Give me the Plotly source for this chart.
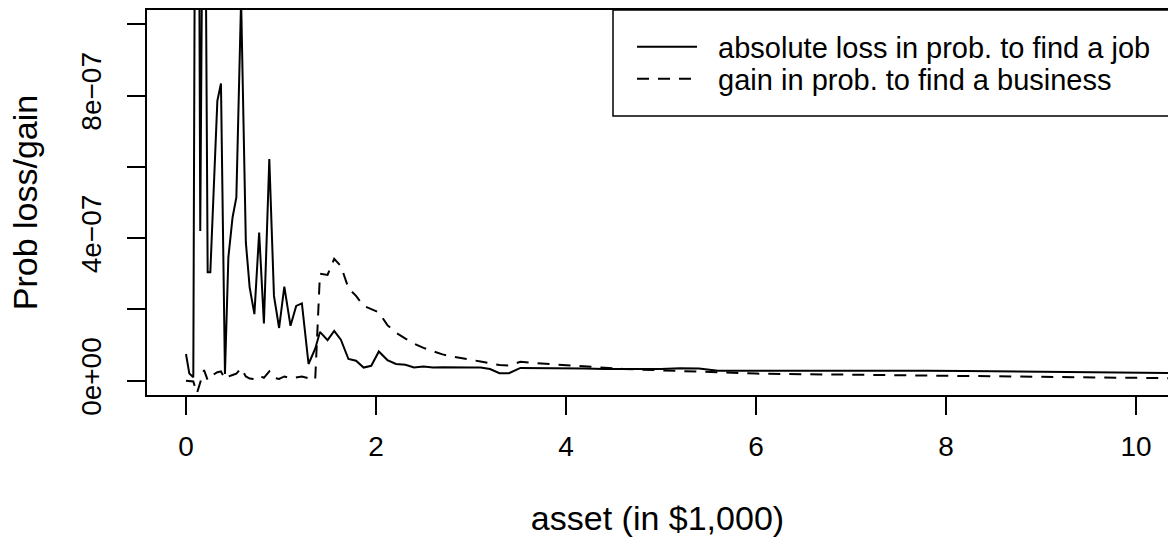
import plotly.graph_objects as go

# asset grid (in $1,000)
asset = [0.0, 0.035, 0.077, 0.115, 0.15, 0.19, 0.228, 0.256, 0.33, 0.368,
         0.41, 0.446, 0.49, 0.53, 0.58, 0.63, 0.67, 0.72, 0.77, 0.82,
         0.877, 0.926, 0.98, 1.035, 1.10, 1.16, 1.22, 1.29, 1.36, 1.41,
         1.49, 1.56, 1.63, 1.71, 1.79, 1.87, 1.95, 2.03, 2.12, 2.21,
         2.31, 2.40, 2.50, 2.60, 2.70, 2.80, 2.90, 3.00, 3.10, 3.20,
         3.30, 3.40, 3.52, 3.65, 3.80, 4.00, 4.20, 4.40, 4.60, 4.80,
         5.00, 5.20, 5.40, 5.60, 5.80, 6.00, 6.30, 6.60, 7.00, 7.40,
         7.80, 8.20, 8.60, 9.00, 9.40, 9.80, 10.20, 10.60]

# absolute loss in probability to find a job (units of 1e-7)
job_loss = [0.75, 0.20, 0.10, 30.0, 4.20, 20.0, 3.04, 3.04, 7.85, 8.34,
            0.19, 3.46, 4.58, 5.14, 10.7, 3.88, 2.62, 1.87, 4.16, 1.61,
            6.22, 2.38, 1.48, 2.64, 1.54, 2.10, 2.17, 0.47, 0.90, 1.37,
            1.14, 1.40, 1.15, 0.61, 0.56, 0.37, 0.42, 0.82, 0.58, 0.47,
            0.45, 0.37, 0.40, 0.37, 0.38, 0.37, 0.38, 0.37, 0.37, 0.33,
            0.21, 0.21, 0.36, 0.36, 0.36, 0.35, 0.34, 0.33, 0.33, 0.32,
            0.33, 0.35, 0.34, 0.28, 0.28, 0.29, 0.30, 0.29, 0.29, 0.28,
            0.28, 0.27, 0.26, 0.25, 0.24, 0.23, 0.22, 0.21]

# gain in probability to find a business (units of 1e-7)
biz_gain = [0.00, 0.00, -0.02, -0.35, -0.05, 0.30, 0.02, 0.12, 0.24, 0.26,
            0.05, 0.12, 0.16, 0.20, 0.35, 0.12, 0.06, 0.05, 0.14, 0.08,
            0.26, 0.08, 0.05, 0.12, 0.07, 0.10, 0.12, 0.07, 0.03, 3.00,
            2.97, 3.42, 3.22, 2.60, 2.38, 2.10, 2.00, 1.92, 1.56, 1.35,
            1.18, 1.04, 0.92, 0.82, 0.74, 0.68, 0.64, 0.59, 0.54, 0.49,
            0.44, 0.43, 0.53, 0.50, 0.47, 0.43, 0.41, 0.37, 0.33, 0.31,
            0.29, 0.27, 0.25, 0.22, 0.21, 0.20, 0.19, 0.18, 0.16, 0.15,
            0.14, 0.12, 0.11, 0.10, 0.09, 0.08, 0.075, 0.07]

x_ticks = [0, 2, 4, 6, 8, 10]
y_ticks = [0, 2e-7, 4e-7, 6e-7, 8e-7, 1e-6]
y_tick_text = ["0e+00", "", "4e\u221207", "", "8e\u221207", ""]

FONT = "Liberation Sans, Arial, Helvetica, sans-serif"
FS = 28
LEG_FS = 29

W, H = 1168, 537
L, R, T, B = 147, 0, 10, 142
PW, PH = W - L - R, H - T - B


def px_x(px):
    """pixel column -> paper x (relative to the plot area)"""
    return (px - L) / PW


def px_y(py):
    """pixel row -> paper y (relative to the plot area)"""
    return (H - B - py) / PH


fig = go.Figure()
fig.add_trace(go.Scatter(
    x=asset, y=[v * 1e-7 for v in job_loss], mode="lines",
    name="\u00a0\u00a0absolute loss in prob. to find a job",
    line=dict(color="black", width=2), legend="legend"))
fig.add_trace(go.Scatter(
    x=asset, y=[v * 1e-7 for v in biz_gain], mode="lines",
    name="\u00a0\u00a0gain in prob. to find a business",
    line=dict(color="black", width=2, dash="12px,9px"), legend="legend2"))

# legend frame running off the right edge
fig.add_shape(type="rect", xref="paper", yref="paper",
              x0=px_x(613), x1=1.2, y0=px_y(116), y1=1.0,
              line=dict(color="black", width=1.5), fillcolor="white",
              layer="below")

leg_common = dict(xanchor="left", yanchor="middle", bgcolor="rgba(0,0,0,0)",
                  borderwidth=0, itemwidth=60,
                  font=dict(family=FONT, size=LEG_FS, color="black"))

fig.update_layout(
    template="none",
    width=W, height=H,
    margin=dict(l=L, r=R, t=T, b=B, autoexpand=False),
    paper_bgcolor="white", plot_bgcolor="rgba(0,0,0,0)",
    font=dict(family=FONT, size=FS, color="black"),
    showlegend=True,
    legend=dict(x=px_x(632), y=px_y(47), **leg_common),
    legend2=dict(x=px_x(632), y=px_y(79), **leg_common),
    xaxis=dict(range=[-0.4105, 10.337], tickvals=x_ticks,
               ticktext=[str(t) for t in x_ticks], automargin=False,
               ticks="outside", ticklen=18, tickwidth=2, tickcolor="black",
               ticklabelstandoff=7,
               showline=True, linewidth=2, linecolor="black", mirror=True,
               showgrid=False, zeroline=False,
               title=dict(text="asset (in $1,000)", standoff=59)),
    yaxis=dict(range=[-0.4e-7, 10.4e-7], tickvals=y_ticks,
               ticktext=y_tick_text, tickangle=-90, automargin=False,
               ticks="outside", ticklen=18, tickwidth=2, tickcolor="black",
               ticklabelstandoff=15,
               showline=True, linewidth=2, linecolor="black", mirror=False,
               showgrid=False, zeroline=False,
               title=dict(text="Prob loss/gain", standoff=28)),
)

fig.write_html("out.html")
